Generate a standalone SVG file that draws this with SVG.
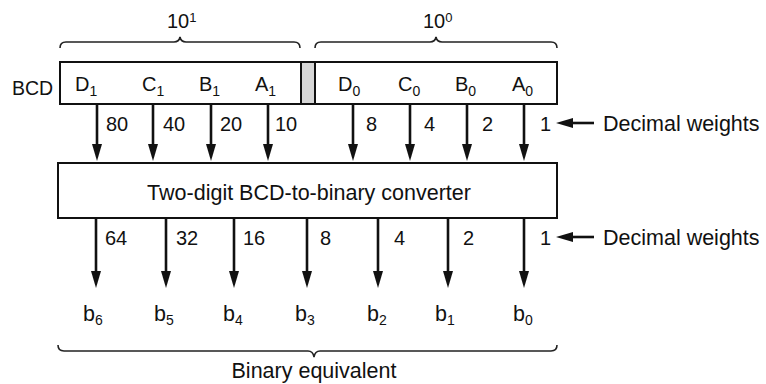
<svg xmlns="http://www.w3.org/2000/svg" width="766" height="384" viewBox="0 0 766 384">
<style>
text{font-family:"Liberation Sans",Arial,sans-serif;font-size:20px;fill:#111}
.big{font-size:21.5px}
.sub{font-size:14px}
.sup{font-size:13px}
.box{fill:#fff;stroke:#111;stroke-width:2}
.sep{fill:#d6d6d6;stroke:#111;stroke-width:2}
.ln{stroke:#111;stroke-width:2.6;fill:none}
.brace{stroke:#222;stroke-width:1.6;fill:none}
</style>
<defs>
<marker id="ah" viewBox="0 0 17 10" refX="0" refY="5" markerWidth="17" markerHeight="10" markerUnits="userSpaceOnUse" orient="auto">
<path d="M0,0 L17,5 L0,10 Z" fill="#111"/>
</marker>
</defs>

<g id="brace-10-1">
<path class="brace" d="M60,48 Q60,42 66,42 L174,42 Q179,42 180,37 Q181,42 186,42 L294,42 Q300,42 300,48"/>
<text x="167" y="28">10<tspan class="sup" dy="-6">1</tspan></text>
</g>
<g id="brace-10-0">
<path class="brace" d="M315,48 Q315,42 321,42 L430,42 Q435,42 436,37 Q437,42 442,42 L551,42 Q557,42 557,48"/>
<text x="423" y="28">10<tspan class="sup" dy="-6">0</tspan></text>
</g>

<g id="bcd-register">
<text x="12" y="95" style="font-size:19.5px">BCD</text>
<rect class="box" x="60" y="62" width="497" height="42"/>
<rect class="sep" x="301" y="62" width="14" height="42"/>
<text x="75" y="91">D<tspan class="sub" dy="5">1</tspan></text>
<text x="142" y="91">C<tspan class="sub" dy="5">1</tspan></text>
<text x="199" y="91">B<tspan class="sub" dy="5">1</tspan></text>
<text x="255" y="91">A<tspan class="sub" dy="5">1</tspan></text>
<text x="338" y="91">D<tspan class="sub" dy="5">0</tspan></text>
<text x="398" y="91">C<tspan class="sub" dy="5">0</tspan></text>
<text x="455" y="91">B<tspan class="sub" dy="5">0</tspan></text>
<text x="512" y="91">A<tspan class="sub" dy="5">0</tspan></text>
</g>

<g id="converter">
<rect class="box" x="58" y="163" width="499" height="55"/>
<text class="big" x="309" y="200" text-anchor="middle">Two-digit BCD-to-binary converter</text>
</g>

<g id="outputs">
<text class="big" x="83" y="321">b<tspan class="sub" dy="4">6</tspan></text>
<text class="big" x="154" y="321">b<tspan class="sub" dy="4">5</tspan></text>
<text class="big" x="223" y="321">b<tspan class="sub" dy="4">4</tspan></text>
<text class="big" x="295" y="321">b<tspan class="sub" dy="4">3</tspan></text>
<text class="big" x="367" y="321">b<tspan class="sub" dy="4">2</tspan></text>
<text class="big" x="435" y="321">b<tspan class="sub" dy="4">1</tspan></text>
<text class="big" x="513" y="321">b<tspan class="sub" dy="4">0</tspan></text>
</g>

<g id="binary-brace">
<path class="brace" d="M58,345 Q58,351 64,351 L308,351 Q313,351 314,357 Q315,351 320,351 L551,351 Q557,351 557,345"/>
<text class="big" x="314" y="378" text-anchor="middle">Binary equivalent</text>
</g>

<g id="connectors">
<path class="ln" d="M97,104V144" marker-end="url(#ah)"/>
<path class="ln" d="M153,104V144" marker-end="url(#ah)"/>
<path class="ln" d="M211,104V144" marker-end="url(#ah)"/>
<path class="ln" d="M268,104V144" marker-end="url(#ah)"/>
<path class="ln" d="M353,104V144" marker-end="url(#ah)"/>
<path class="ln" d="M410,104V144" marker-end="url(#ah)"/>
<path class="ln" d="M467,104V144" marker-end="url(#ah)"/>
<path class="ln" d="M524,104V144" marker-end="url(#ah)"/>

<path class="ln" d="M96,218V271" marker-end="url(#ah)"/>
<path class="ln" d="M166,218V271" marker-end="url(#ah)"/>
<path class="ln" d="M234,218V271" marker-end="url(#ah)"/>
<path class="ln" d="M307,218V271" marker-end="url(#ah)"/>
<path class="ln" d="M378,218V271" marker-end="url(#ah)"/>
<path class="ln" d="M448,218V271" marker-end="url(#ah)"/>
<path class="ln" d="M524,218V271" marker-end="url(#ah)"/>

<path class="ln" d="M594,123H573" marker-end="url(#ah)"/>
<path class="ln" d="M594,237H573" marker-end="url(#ah)"/>
</g>

<g id="weights-in">
<text x="106" y="131">80</text>
<text x="163" y="131">40</text>
<text x="220" y="131">20</text>
<text x="275" y="131">10</text>
<text x="366" y="131">8</text>
<text x="424" y="131">4</text>
<text x="482" y="131">2</text>
<text x="540" y="131">1</text>
<text class="big" x="603" y="131">Decimal weights</text>
</g>
<g id="weights-out">
<text x="105" y="245">64</text>
<text x="176" y="245">32</text>
<text x="243" y="245">16</text>
<text x="320" y="245">8</text>
<text x="394" y="245">4</text>
<text x="463" y="245">2</text>
<text x="540" y="245">1</text>
<text class="big" x="603" y="245">Decimal weights</text>
</g>
</svg>
